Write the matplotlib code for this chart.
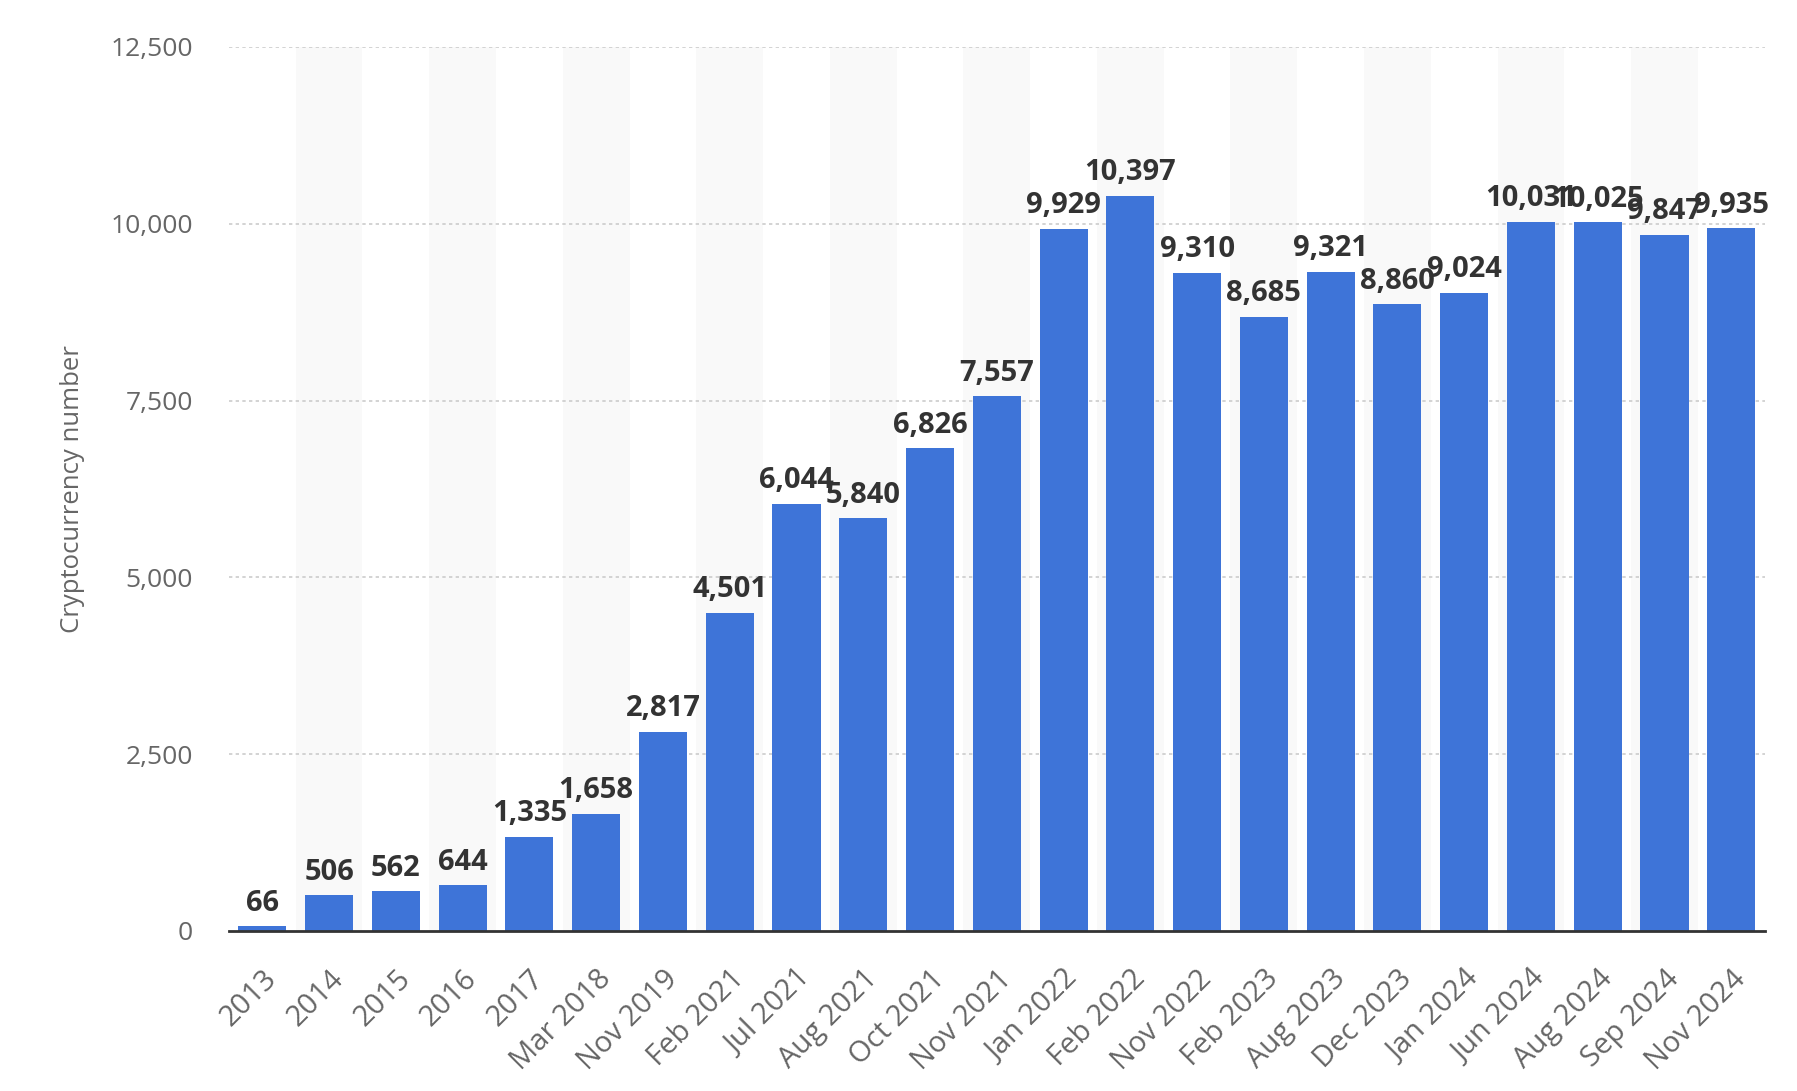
import matplotlib
matplotlib.use("Agg")
import matplotlib.pyplot as plt
import numpy as np

categories = ["2013", "2014", "2015", "2016", "2017", "Mar 2018", "Nov 2019",
              "Feb 2021", "Jul 2021", "Aug 2021", "Oct 2021", "Nov 2021",
              "Jan 2022", "Feb 2022", "Nov 2022", "Feb 2023", "Aug 2023",
              "Dec 2023", "Jan 2024", "Jun 2024", "Aug 2024", "Sep 2024", "Nov 2024"]
values = [66, 506, 562, 644, 1335, 1658, 2817, 4501, 6044, 5840, 6826, 7557,
          9929, 10397, 9310, 8685, 9321, 8860, 9024, 10031, 10025, 9847, 9935]
y_ticks = [0, 2500, 5000, 7500, 10000, 12500]

plt.rcParams['font.family'] = ['Open Sans', 'DejaVu Sans']

fig = plt.figure(figsize=(17.97, 10.91), dpi=100)
ax = fig.add_axes([0.1274, 0.1467, 0.982 - 0.1274, 0.957 - 0.1467])

x = np.arange(len(categories))
# alternating background bands
for i in x:
    if i % 2 == 1:
        ax.axvspan(i - 0.5, i + 0.5, color="#f9f9f9", zorder=0, lw=0)

ax.bar(x, values, width=0.72, color="#3e74d8", zorder=3)

for xi, v in zip(x, values):
    ax.annotate(f"{v:,}", (xi, v), xytext=(0, 6), textcoords="offset points",
                ha="center", va="bottom", fontsize=21, fontweight="bold",
                color="#333333", zorder=5)

ax.set_xlim(-0.5, len(categories) - 0.5)
ax.set_ylim(0, 12500)
ax.set_yticks(y_ticks)
ax.set_yticklabels([f"{t:,}" for t in y_ticks])
ax.set_xticks(x)
ax.set_xticklabels(categories, rotation=45, ha="right", rotation_mode="anchor")

for t in y_ticks[1:]:
    ax.axhline(t, color="#cccccc", lw=1.2, ls=(0, (2, 2)), zorder=1)

for s in ["top", "right", "left"]:
    ax.spines[s].set_visible(False)
ax.spines["bottom"].set_color("#333333")
ax.spines["bottom"].set_linewidth(2)
ax.spines["bottom"].set_zorder(6)

ax.tick_params(axis="y", length=0, pad=26, labelsize=19, labelcolor="#666666")
ax.tick_params(axis="x", length=0, pad=24, labelsize=21, labelcolor="#666666")

ax.set_ylabel("Cryptocurrency number", fontsize=18.5, color="#666666", labelpad=18)

fig.savefig("out.png", dpi=100)
